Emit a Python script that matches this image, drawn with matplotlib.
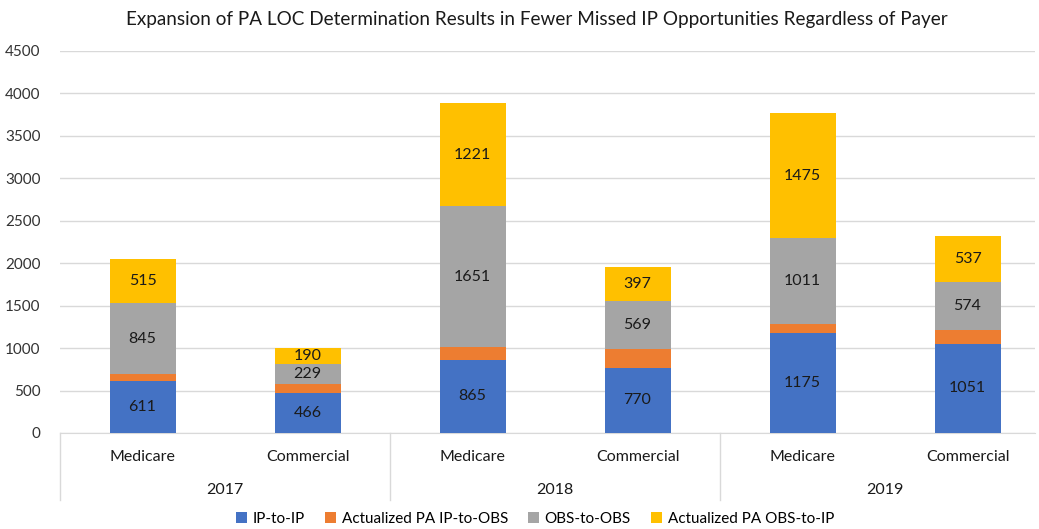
import numpy as np
import matplotlib
matplotlib.use("Agg")
import matplotlib.pyplot as plt
from matplotlib.patches import Patch

plt.rcParams['font.family'] = ['Lato', 'DejaVu Sans']

# data
years = ['2017', '2018', '2019']
payers = ['Medicare', 'Commercial', 'Medicare', 'Commercial', 'Medicare', 'Commercial']
ip_ip = [611, 466, 865, 770, 1175, 1051]
ip_obs = [79, 116, 153, 219, 109, 158]   # no labels in source
obs_obs = [845, 229, 1651, 569, 1011, 574]
obs_ip = [515, 190, 1221, 397, 1475, 537]

series = [
    ('IP-to-IP', ip_ip, '#4472C4', True),
    ('Actualized PA IP-to-OBS', ip_obs, '#ED7D31', False),
    ('OBS-to-OBS', obs_obs, '#A5A5A5', True),
    ('Actualized PA OBS-to-IP', obs_ip, '#FFC000', True),
]

W, H = 1039, 529
fig = plt.figure(figsize=(W / 100, H / 100), dpi=100)
ax = fig.add_axes([60 / W, (H - 433) / H, 975 / W, (433 - 51) / H])

x = np.arange(len(payers))
bottom = np.zeros(len(payers))
for name, vals, col, lab in series:
    vals = np.array(vals)
    ax.bar(x, vals, 0.4, bottom=bottom, color=col, label=name, zorder=3)
    if lab:
        for xi, b, v in zip(x, bottom, vals):
            ax.text(xi, b + v / 2, str(v), ha='center', va='center',
                    fontsize=11.5, color='#1a1a1a', zorder=4)
    bottom += vals

ax.set_xlim(-0.5, 5.409)
ax.set_ylim(0, 4500)
ax.set_yticks(np.arange(0, 4501, 500))
ax.tick_params(axis='y', length=0, labelsize=11, colors='#333333', pad=14)
ax.set_xticks([])
ax.grid(axis='y', color='#D9D9D9', linewidth=1, zorder=0)
for s in ['top', 'right', 'left']:
    ax.spines[s].set_visible(False)
ax.spines['bottom'].set_color('#D9D9D9')

# two-level category axis
trans = ax.get_xaxis_transform()
for xi, p in zip(x, payers):
    ax.text(xi, -24 / 382, p, transform=trans, ha='center', va='center',
            fontsize=11.5, color='#1a1a1a')
for i, yr in enumerate(years):
    ax.text(2 * i + 0.5, -57 / 382, yr, transform=trans, ha='center', va='center',
            fontsize=11.5, color='#1a1a1a')
for xs in [-0.5, 1.5, 3.5, 5.5]:
    ax.plot([xs, xs], [0, -67 / 382], transform=trans, color='#D9D9D9',
            linewidth=1, clip_on=False)

fig.text(537 / W, 1 - 19 / H, 'Expansion of PA LOC Determination Results in Fewer Missed IP Opportunities Regardless of Payer',
         ha='center', va='center', fontsize=13.6, color='#1a1a1a')

handles = [Patch(facecolor=c, label=n) for n, _, c, _ in series]
fig.legend(handles=handles, loc='center', bbox_to_anchor=(535 / W, 1 - 519 / H), ncol=4,
           frameon=False, fontsize=11, handlelength=0.7, handleheight=0.7,
           handletextpad=0.4, columnspacing=1.3)

fig.savefig('out.png', dpi=100)
